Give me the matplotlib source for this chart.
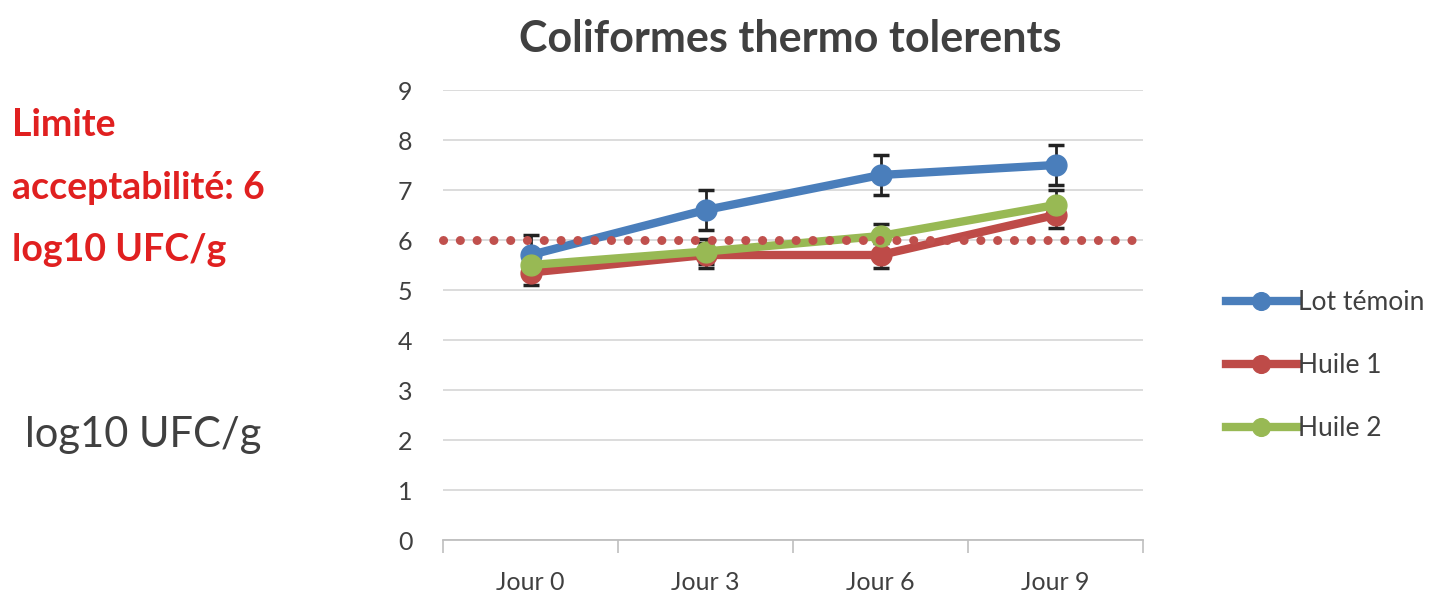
import matplotlib
matplotlib.use('Agg')
import matplotlib.pyplot as plt
import numpy as np

jours = ["Jour 0", "Jour 3", "Jour 6", "Jour 9"]
series_names = ["Lot témoin", "Huile 1", "Huile 2"]
lot_temoin = [5.7, 6.6, 7.3, 7.5]
huile_1 = [5.35, 5.7, 5.7, 6.5]
huile_2 = [5.5, 5.77, 6.08, 6.7]
err_temoin = [0.4, 0.4, 0.4, 0.4]
err_huile_1 = [0.25, 0.25, 0.25, 0.25]
err_huile_2 = [0.25, 0.25, 0.25, 0.3]
limite = 6

colors = ["#4A7EBB", "#BE4B48", "#98B954"]

plt.rcParams['font.family'] = ['Lato', 'DejaVu Sans']

fig = plt.figure(figsize=(14.34, 5.95), dpi=100)
ax = fig.add_axes([443/1434, 1 - 540/595, 700/1434, 450/595])

x = np.arange(len(jours))
for vals, errs, col, name in zip([lot_temoin, huile_1, huile_2],
                                 [err_temoin, err_huile_1, err_huile_2],
                                 colors, series_names):
    ax.errorbar(x, vals, yerr=errs, fmt='none', ecolor='#222222',
                elinewidth=2, capsize=6, capthick=2.5, zorder=2)
    ax.plot(x, vals, color=col, lw=6, marker='o', markersize=15,
            label=name, zorder=3)

# limite d'acceptabilité
ax.axhline(limite, color='#C0504D', lw=6.5, linestyle=(0, (0.01, 1.85)),
           dash_capstyle='round', zorder=4, clip_on=False)

ax.set_xlim(-0.5, 3.5)
ax.set_ylim(0, 9)
ax.set_yticks(range(0, 10))
ax.set_xticks(x)
ax.set_xticklabels(jours)
ax.set_xticks(np.arange(-0.5, 4, 1), minor=True)
ax.tick_params(axis='x', which='major', length=0, pad=22, labelsize=18, labelcolor='#404040')
ax.tick_params(axis='x', which='minor', length=9, color='#BFBFBF', width=1.2)
ax.tick_params(axis='y', length=0, pad=22, labelsize=18, labelcolor='#404040')
ax.yaxis.grid(True, color='#D9D9D9', lw=1.3)
ax.set_axisbelow(True)
for s in ['top', 'right', 'left']:
    ax.spines[s].set_visible(False)
ax.spines['bottom'].set_color('#BFBFBF')
ax.spines['bottom'].set_linewidth(1.3)

fig.text(790/1434, 1 - 39/595, "Coliformes thermo tolerents", ha='center', va='center',
         fontsize=31, fontweight='bold', color='#404040')

for txt, ypix in zip(["Limite", "acceptabilité: 6", "log10 UFC/g"], [125, 188, 250]):
    fig.text(12/1434, 1 - ypix/595, txt, ha='left', va='center',
             fontsize=27, fontweight='bold', color='#E02020')
fig.text(25/1434, 1 - 435/595, "log10 UFC/g", ha='left', va='center',
         fontsize=30, color='#404040')

leg = fig.legend(loc='upper left', bbox_to_anchor=(1202/1434, 1 - 266/595),
                 frameon=False, fontsize=19, handlelength=2.7, handletextpad=0.05,
                 labelspacing=1.45, markerscale=0.85)
for t in leg.get_texts():
    t.set_color('#404040')

fig.savefig("out.png", dpi=100)
